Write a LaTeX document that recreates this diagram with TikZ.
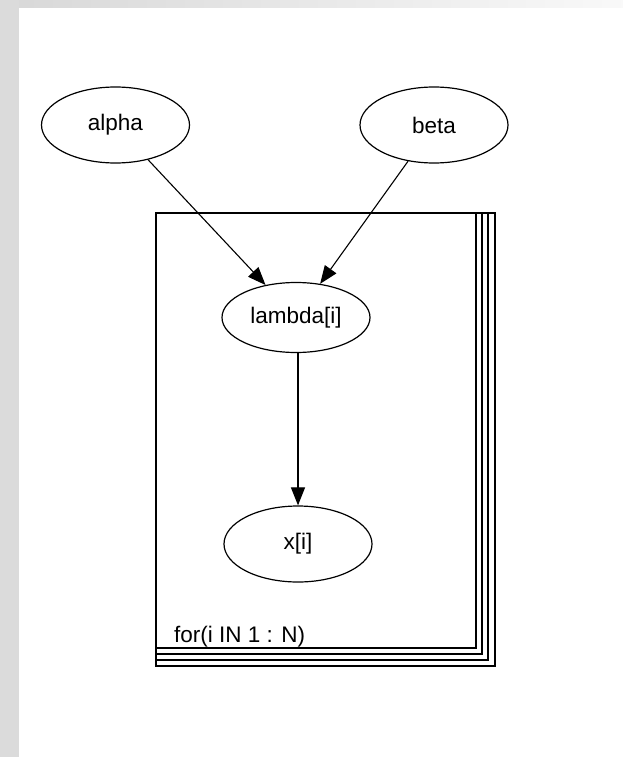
\documentclass[tikz,border=0pt]{standalone}
\usepackage{fontspec}
\setmainfont{Liberation Sans}
\usetikzlibrary{arrows.meta,shapes.geometric}
\begin{document}
\begin{tikzpicture}[x=1pt,y=-1pt,
  every node/.style={font=\fontsize{22.5}{26}\selectfont},
  var/.style={draw,ellipse,line width=1.2pt,minimum width=148pt,minimum height=76pt,inner sep=0pt},
  edge/.style={line width=1.1pt,-{Triangle[length=18pt,width=14pt]}},
  plate/.style={line width=1.3pt}]
\useasboundingbox (0,0) rectangle (623,757);
\fill[white] (0,0) rectangle (623,757);
% gray margins
\fill[gray!28] (0,0) rectangle (19,757);
\shade[left color=gray!30,right color=gray!5] (19,0) rectangle (623,8);
% plate
\draw[plate] (156,213) rectangle (495,666);
\draw[plate] (156,213) rectangle (488,660);
\draw[plate] (156,213) rectangle (482,654);
\draw[plate,fill=white] (156,213) rectangle (476,648);
\node[anchor=base west,inner sep=0pt] (lbl) at (174,642) {for(i IN 1 : N)};
% nodes
\node[var] (alpha) at (115.5,125) {alpha};
\node[var] (beta) at (434,125) {beta};
\node[var,minimum height=70pt] (lambda) at (296,317.5) {lambda[i]};
\node[var] (x) at (298,544) {x[i]};
% edges
\draw[edge] (alpha) -- (lambda);
\draw[edge] (beta) -- (lambda);
\draw[edge] (lambda.south -| x.north) -- (x.north);
\end{tikzpicture}
\end{document}
